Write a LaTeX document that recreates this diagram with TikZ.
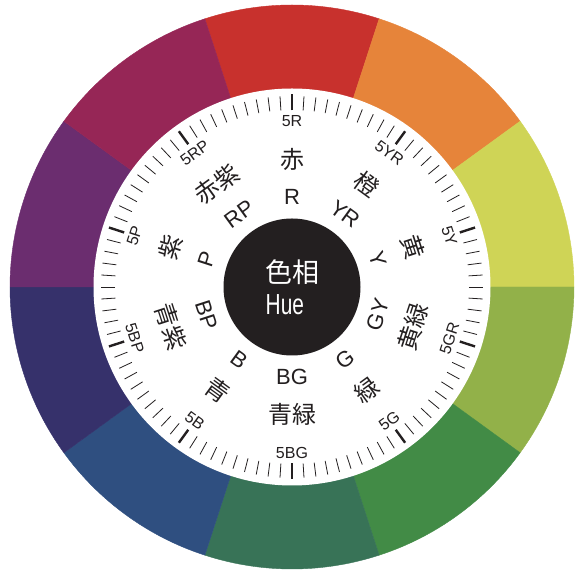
\documentclass[tikz,border=0pt]{standalone}
\usepackage{fontspec}
\setmainfont{Liberation Sans}
\newfontfamily\jpfont{Noto Sans CJK JP}
\definecolor{cR}{HTML}{C8312D}
\definecolor{cYR}{HTML}{E6843A}
\definecolor{cY}{HTML}{CFD456}
\definecolor{cGY}{HTML}{92B149}
\definecolor{cG}{HTML}{428B46}
\definecolor{cBG}{HTML}{387357}
\definecolor{cB}{HTML}{2F4F80}
\definecolor{cPB}{HTML}{36316B}
\definecolor{cP}{HTML}{6B2D6F}
\definecolor{cRP}{HTML}{962656}
\definecolor{hueblack}{HTML}{231F20}
\begin{document}
\begin{tikzpicture}[x=1pt,y=1pt,
  minortick/.style={line width=0.8pt, draw=hueblack},
  majortick/.style={line width=2.4pt, draw=hueblack},
  fivelab/.style={font=\fontsize{16}{16}\selectfont, text=hueblack, inner sep=0},
  letlab/.style={font=\fontsize{22}{22}\selectfont, text=hueblack, inner sep=0},
  kanlab/.style={font=\jpfont\fontsize{24}{24}\selectfont, text=hueblack, inner sep=0},
  centertext/.style={anchor=west, text=white, inner sep=0}]
\useasboundingbox (0,0) rectangle (582,570);
\coordinate (c) at (292,283);
% colour ring
\foreach \a/\col in {90/cR,54/cYR,18/cY,-18/cGY,-54/cG,-90/cBG,-126/cB,-162/cPB,162/cP,126/cRP}
  \filldraw[fill=\col, draw=\col, line width=0.4pt] (c) -- ++({\a-18}:282) arc[start angle=\a-18, end angle=\a+18, radius=282pt] -- cycle;
% white disc
\fill[white] (c) circle[radius=198.5pt];
% ticks
\foreach \k in {0,...,99} {
  \pgfmathsetmacro\ang{90-3.6*\k}
  \pgfmathtruncatemacro\m{mod(\k,10)}
  \ifnum\m=0
    \draw[majortick] ([shift={(\ang:176.5)}]c) -- ([shift={(\ang:192.5)}]c);
  \else
    \draw[minortick] ([shift={(\ang:177)}]c) -- ([shift={(\ang:191)}]c);
  \fi
}
% labels
\foreach \a/\five/\lt/\kan [count=\i] in {90/5R/R/赤, 54/5YR/YR/橙, 18/5Y/Y/黄, -18/5GR/GY/黄緑, -54/5G/G/緑, -90/5BG/BG/青緑, -126/5B/B/青, -162/5BP/BP/青紫, 162/5P/P/紫, 126/5RP/RP/赤紫} {
  \pgfmathsetmacro\rot{\a>0 ? \a-90 : \a+90}
  \node[fivelab, rotate=\rot] (f\i) at ([shift={(\a:165.5)}]c) {\five};
  \node[letlab, rotate=\rot] (l\i) at ([shift={(\a:90)}]c) {\lt};
  \node[kanlab, rotate=\rot] (k\i) at ([shift={(\a:127.5)}]c) {\kan};
}
% centre
\node[circle, fill=hueblack, minimum size=137pt, inner sep=0] (core) at (c) {};
\node[centertext, font=\jpfont\fontsize{27}{27}\selectfont] (t1) at (265,298.3) {色相};
\node[centertext, font=\fontsize{29}{29}\selectfont] (t2) at (265.5,265.7) {\scalebox{0.72}[1]{Hue}};
\end{tikzpicture}
\end{document}
